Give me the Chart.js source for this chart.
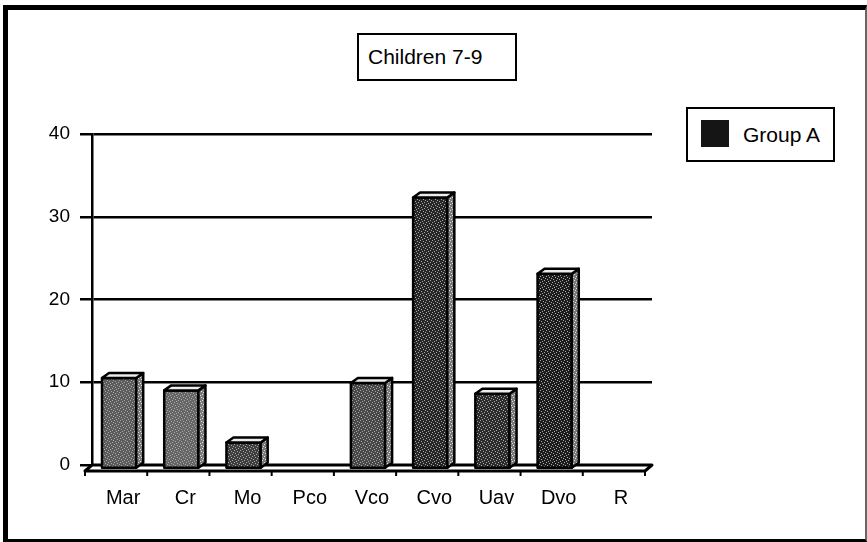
<!DOCTYPE html>
<html>
<head>
<meta charset="utf-8">
<title>Children 7-9</title>
<script src="https://cdn.jsdelivr.net/npm/chart.js@4.4.1/dist/chart.umd.min.js"></script>
<style>
  html, body { margin: 0; padding: 0; background: #fff; }
  #wrap { position: relative; width: 867px; height: 542px; overflow: hidden; font-family: 'Liberation Sans', Arial, sans-serif; color: #000; }
  #chart { position: absolute; left: 0; top: 0; }
  #frame { position: absolute; left: 3px; top: 5px; right: 0; bottom: 0; box-sizing: border-box;
           border-left: 5px solid #000; border-top: 5px solid #000; border-bottom: 3px solid #000; border-right: 2px solid #666; pointer-events: none; }
  #title { position: absolute; left: 357px; top: 33px; width: 160px; height: 48px; box-sizing: border-box;
           border: 2px solid #000; background: #fff; font-size: 21px; line-height: 44px; padding-left: 9px; white-space: nowrap; }
  #legend { position: absolute; left: 686px; top: 107px; width: 149px; height: 55px; box-sizing: border-box;
            border: 2px solid #000; background: #fff; }
  #legend .swatch { position: absolute; left: 13px; top: 11px; width: 28px; height: 27px; background: #151515; }
  #legend .label { position: absolute; left: 55px; top: 0; line-height: 51px; font-size: 21px; white-space: nowrap; }
</style>
</head>
<body>
<div id="wrap">
  <canvas id="chart" width="867" height="542"></canvas>
  <div id="title">Children 7-9</div>
  <div id="legend"><div class="swatch"></div><div class="label">Group A</div></div>
  <div id="frame"></div>
</div>
<script>
// Datos
const categories = ['Mar', 'Cr', 'Mo', 'Pco', 'Vco', 'Cvo', 'Uav', 'Dvo', 'R'];
const groupA = [11, 9.5, 3.2, 0, 10.4, 32.8, 9.1, 23.6, 0];
const yTicks = [0, 10, 20, 30, 40];

// tonos de cada barra (el escaneo las hace más o menos oscuras)
const barShades = ['#5c5c5c', '#666666', '#3e3e3e', '#3e3e3e', '#484848', '#262626', '#2c2c2c', '#1c1c1c', '#1c1c1c'];
const FONT = "'Liberation Sans', Arial, sans-serif";

// punteado fijo, imita la trama del original
function stipple(ctx, base, light) {
  const c = document.createElement('canvas');
  c.width = 6; c.height = 6;
  const g = c.getContext('2d');
  g.fillStyle = base; g.fillRect(0, 0, 6, 6);
  g.fillStyle = light;
  [[0, 0], [3, 1], [1, 3], [4, 4], [5, 2], [2, 5]].forEach(([px, py]) => g.fillRect(px, py, 1, 1));
  return ctx.createPattern(c, 'repeat');
}

const bars3d = {
  id: 'bars3d',
  beforeDatasetDraw() { return false; },
  afterDatasetsDraw(chart) {
    const { ctx, chartArea, scales: { y } } = chart;
    const base = y.getPixelForValue(0);
    const fx = 7, fy = 6;   // profundidad del suelo
    const dx = 7, dy = 5;   // profundidad de las barras

    // suelo
    ctx.save();
    ctx.lineJoin = 'round';
    ctx.strokeStyle = '#000';
    ctx.fillStyle = '#fff';
    ctx.lineWidth = 3;
    ctx.beginPath();
    ctx.moveTo(chartArea.left, base);
    ctx.lineTo(chartArea.right, base);
    ctx.lineTo(chartArea.right - fx, base + fy);
    ctx.lineTo(chartArea.left - fx, base + fy);
    ctx.closePath();
    ctx.fill();
    ctx.stroke();
    ctx.lineWidth = 2;
    for (let i = 0; i <= categories.length; i++) {
      const px = chartArea.left + (chartArea.right - chartArea.left) * i / categories.length - fx;
      ctx.beginPath();
      ctx.moveTo(px, base + fy);
      ctx.lineTo(px, base + fy + 5);
      ctx.stroke();
    }

    // barras
    const meta = chart.getDatasetMeta(0);
    meta.data.forEach((bar, i) => {
      if (!chart.data.datasets[0].data[i]) return;
      const w = bar.width;
      const l = bar.x - w / 2 - 4, r = l + w;
      const t = bar.y + 4, b = bar.base + 4;
      const col = bar.options.backgroundColor;
      ctx.lineWidth = 2.5;
      // frente
      ctx.fillStyle = stipple(ctx, col, '#a8a8a8');
      ctx.fillRect(l, t, w, b - t);
      ctx.strokeRect(l, t, w, b - t);
      // lado
      ctx.fillStyle = stipple(ctx, '#7a7a7a', '#e0e0e0');
      ctx.beginPath();
      ctx.moveTo(r, t); ctx.lineTo(r + dx, t - dy); ctx.lineTo(r + dx, b - dy); ctx.lineTo(r, b);
      ctx.closePath(); ctx.fill(); ctx.stroke();
      // tapa
      ctx.fillStyle = '#ececec';
      ctx.beginPath();
      ctx.moveTo(l, t); ctx.lineTo(l + dx, t - dy); ctx.lineTo(r + dx, t - dy); ctx.lineTo(r, t);
      ctx.closePath(); ctx.fill(); ctx.stroke();
    });
    ctx.restore();
  }
};

new Chart(document.getElementById('chart'), {
  type: 'bar',
  data: {
    labels: categories,
    datasets: [{ label: 'Group A', data: groupA, backgroundColor: barShades, borderWidth: 0,
                 categoryPercentage: 1, barPercentage: 0.55 }]
  },
  options: {
    responsive: false,
    devicePixelRatio: 1,
    animation: false,
    layout: { padding: { left: 0, top: 134, right: 215, bottom: 0 } },
    plugins: { legend: { display: false }, title: { display: false }, tooltip: { enabled: false } },
    scales: {
      x: {
        grid: { display: false, drawTicks: false },
        border: { display: false },
        ticks: { color: '#000', padding: 21, font: { family: FONT, size: 20 } },
        afterFit: s => { s.height = 77; }
      },
      y: {
        min: 0, max: 40,
        afterBuildTicks: s => { s.ticks = yTicks.map(v => ({ value: v })); },
        grid: { color: '#000', lineWidth: 2.5, tickLength: 12 },
        border: { display: true, color: '#000', width: 2.5 },
        ticks: { color: '#000', padding: 10, font: { family: FONT, size: 19 } },
        afterFit: s => { s.width = 92; }
      }
    }
  },
  plugins: [bars3d]
});
</script>
</body>
</html>
